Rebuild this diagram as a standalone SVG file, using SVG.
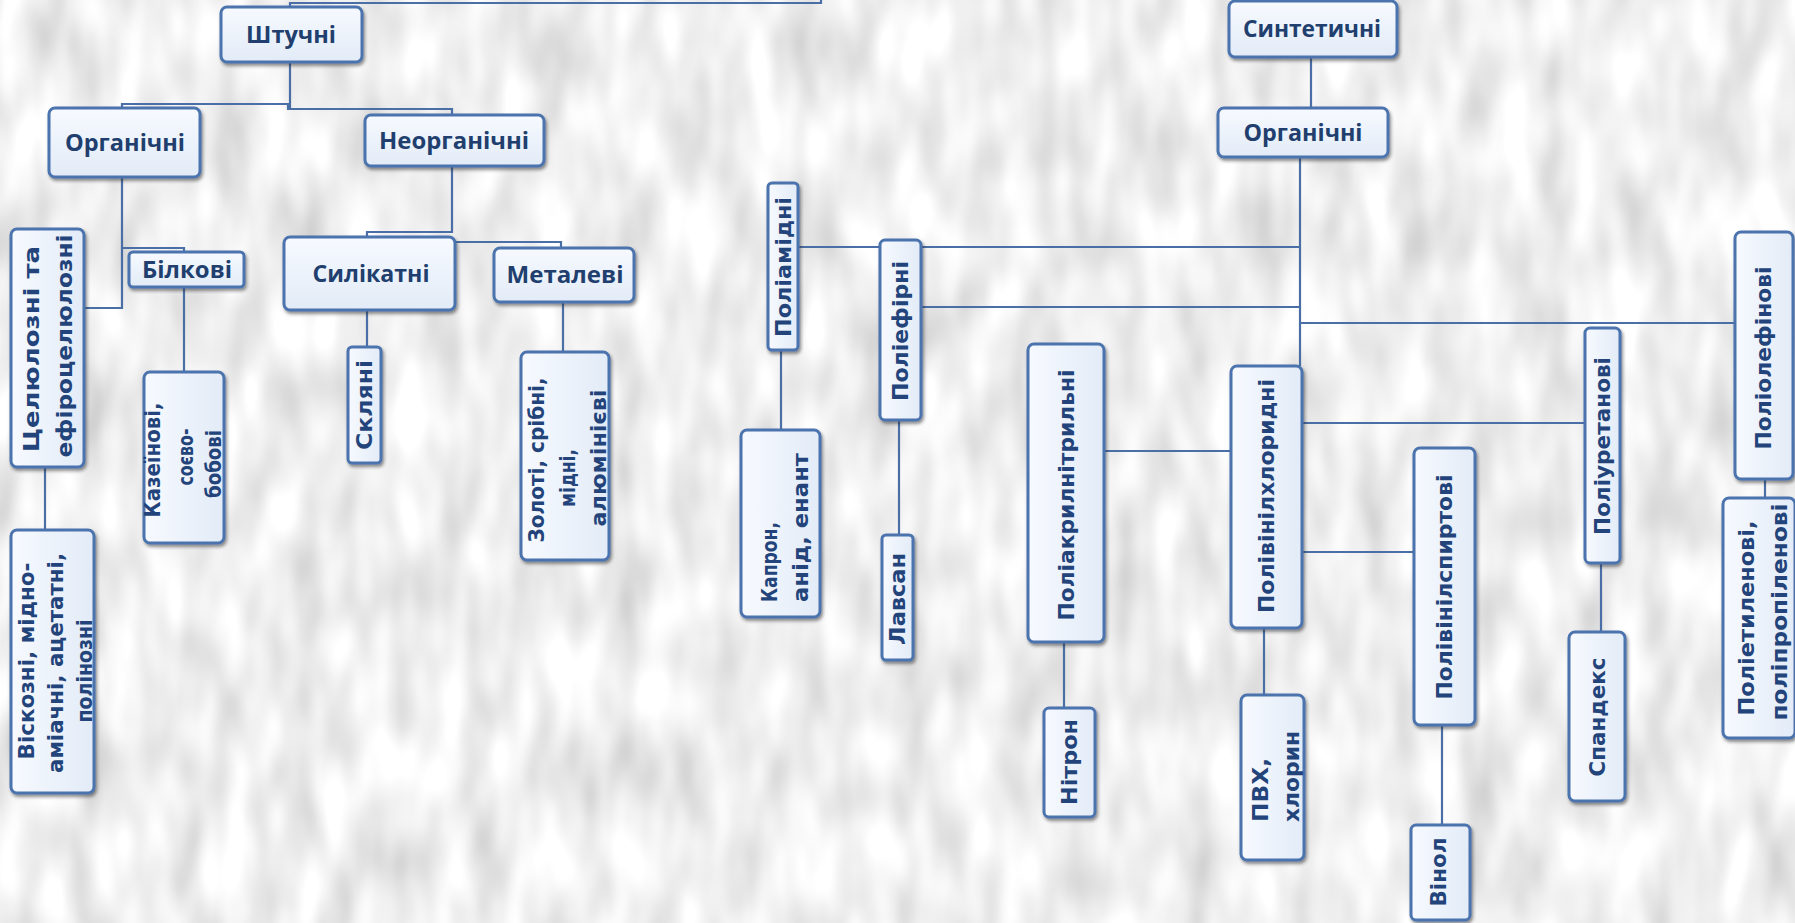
<svg xmlns="http://www.w3.org/2000/svg" width="1795" height="923" viewBox="0 0 1795 923">
<defs>
<filter id="bgnoise" x="0" y="0" width="100%" height="100%">
<feTurbulence type="fractalNoise" baseFrequency="0.028 0.011" numOctaves="2" seed="11" result="n"/>
<feColorMatrix in="n" type="matrix" values="0.6 0 0 0 0.57  0.6 0 0 0 0.57  0.6 0 0 0 0.57  0 0 0 0 1"/>
</filter>
<filter id="shadow" x="-20%" y="-20%" width="140%" height="140%">
<feDropShadow dx="1.5" dy="2.5" stdDeviation="1.5" flood-color="#222" flood-opacity="0.5"/>
</filter>
<linearGradient id="boxg" x1="0" y1="0" x2="0" y2="1">
<stop offset="0" stop-color="#f7faff"/>
<stop offset="1" stop-color="#e2ebf7"/>
</linearGradient>
<linearGradient id="boxv" x1="0" y1="0" x2="1" y2="0">
<stop offset="0" stop-color="#f7faff"/>
<stop offset="1" stop-color="#e2ebf7"/>
</linearGradient>
</defs>
<style>
.bx{fill:url(#boxg);stroke:#4b73ad;stroke-width:3;filter:url(#shadow)}
.bv{fill:url(#boxv);stroke:#4b73ad;stroke-width:3;filter:url(#shadow)}
.ht{font-family:"Open Sans","Liberation Sans",sans-serif;font-weight:700;font-size:24px;fill:#213f6e;text-anchor:middle}
.vt{font-family:"DejaVu Sans","Liberation Sans",sans-serif;font-weight:700;font-size:21px;fill:#23447a;text-anchor:middle}
.cn path{fill:none;stroke:#4a6fa6;stroke-width:2.2}
</style>
<rect x="0" y="0" width="1795" height="923" fill="#dadada"/>
<rect x="0" y="0" width="1795" height="923" filter="url(#bgnoise)"/>

<g id="connectors" class="cn">
<path d="M290,108 V3 H821 V0"/>
<path d="M122,108 V104 H288 V109 H452 V115"/>
<path d="M122,177 V308 H84"/>
<path d="M122,248 H184 V252"/>
<path d="M184,287 V372"/>
<path d="M45,467 V530"/>
<path d="M452,166 V232 H367 V237"/>
<path d="M455,242 H561 V248"/>
<path d="M367,310 V347"/>
<path d="M563,302 V352"/>
<path d="M1311,57 V108"/>
<path d="M1300,157 V366"/>
<path d="M798,247 H1300"/>
<path d="M921,307 H1300"/>
<path d="M1300,323 H1735"/>
<path d="M781,350 V430"/>
<path d="M899,420 V535"/>
<path d="M1104,451 H1231"/>
<path d="M1302,423 H1585"/>
<path d="M1302,552 H1414"/>
<path d="M1064,642 V708"/>
<path d="M1264,628 V695"/>
<path d="M1442,725 V825"/>
<path d="M1601,563 V632"/>
<path d="M1765,479 V498"/>
</g>

<g id="n_shtuchni"><rect class="bx" x="221" y="7" width="141" height="55" rx="6"/><text class="ht" x="291" y="43" textLength="90" lengthAdjust="spacingAndGlyphs">Штучні</text></g>
<g id="n_org_left"><rect class="bx" x="49" y="108" width="151" height="69" rx="6"/><text class="ht" x="125" y="151" textLength="120" lengthAdjust="spacingAndGlyphs">Органічні</text></g>
<g id="n_neorg"><rect class="bx" x="365" y="115" width="179" height="51" rx="6"/><text class="ht" x="454" y="149" textLength="150" lengthAdjust="spacingAndGlyphs">Неорганічні</text></g>
<g id="n_bilkovi"><rect class="bx" x="129" y="252" width="115" height="35" rx="4"/><text class="ht" x="187" y="278" textLength="90" lengthAdjust="spacingAndGlyphs">Білкові</text></g>
<g id="n_silikatni"><rect class="bx" x="284" y="237" width="171" height="73" rx="6"/><text class="ht" x="371" y="282" textLength="117" lengthAdjust="spacingAndGlyphs">Силікатні</text></g>
<g id="n_metalevi"><rect class="bx" x="494" y="248" width="140" height="54" rx="6"/><text class="ht" x="565" y="283" textLength="117" lengthAdjust="spacingAndGlyphs">Металеві</text></g>
<g id="n_synt"><rect class="bx" x="1229" y="1" width="168" height="56" rx="6"/><text class="ht" x="1312" y="37" textLength="138" lengthAdjust="spacingAndGlyphs">Синтетичні</text></g>
<g id="n_org_right"><rect class="bx" x="1218" y="108" width="170" height="49" rx="6"/><text class="ht" x="1303" y="141" textLength="119" lengthAdjust="spacingAndGlyphs">Органічні</text></g>

<g id="n_cell"><rect class="bv" x="11" y="229" width="73" height="238" rx="6"/>
<text class="vt" transform="rotate(-90)"><tspan x="-349" y="39" textLength="206" lengthAdjust="spacingAndGlyphs">Целюлозні та</tspan><tspan x="-346" y="72" textLength="223" lengthAdjust="spacingAndGlyphs">ефіроцелюлозні</tspan></text></g>
<g id="n_visk"><rect class="bv" x="11" y="530" width="83" height="263" rx="6"/>
<text class="vt" transform="rotate(-90)"><tspan x="-661" y="34" textLength="197" lengthAdjust="spacingAndGlyphs">Віскозні, мідно-</tspan><tspan x="-663" y="63" textLength="220" lengthAdjust="spacingAndGlyphs">аміачні, ацетатні,</tspan><tspan x="-671" y="92" textLength="103" lengthAdjust="spacingAndGlyphs">полінозні</tspan></text></g>
<g id="n_kaz"><rect class="bv" x="144" y="372" width="80" height="171" rx="6"/>
<text class="vt" transform="rotate(-90)"><tspan x="-460" y="160" textLength="115" lengthAdjust="spacingAndGlyphs">Казеїнові,</tspan><tspan x="-457" y="193" textLength="57" lengthAdjust="spacingAndGlyphs">соєво-</tspan><tspan x="-464" y="221" textLength="68" lengthAdjust="spacingAndGlyphs">бобові</tspan></text></g>
<g id="n_sklyani"><rect class="bv" x="348" y="347" width="33" height="116" rx="4"/>
<text class="vt" transform="rotate(-90)"><tspan x="-405" y="372" textLength="90" lengthAdjust="spacingAndGlyphs">Скляні</tspan></text></g>
<g id="n_zoloti"><rect class="bv" x="521" y="352" width="88" height="208" rx="6"/>
<text class="vt" transform="rotate(-90)"><tspan x="-460" y="544" textLength="165" lengthAdjust="spacingAndGlyphs">Золоті, срібні,</tspan><tspan x="-478" y="575" textLength="58" lengthAdjust="spacingAndGlyphs">мідні,</tspan><tspan x="-458" y="606" textLength="137" lengthAdjust="spacingAndGlyphs">алюмінієві</tspan></text></g>
<g id="n_poliamid"><rect class="bv" x="768" y="183" width="30" height="167" rx="4"/>
<text class="vt" transform="rotate(-90)"><tspan x="-267" y="791" textLength="140" lengthAdjust="spacingAndGlyphs">Поліамідні</tspan></text></g>
<g id="n_kapron"><rect class="bv" x="741" y="430" width="79" height="187" rx="6"/>
<text class="vt" transform="rotate(-90)" style="text-anchor:start"><tspan x="-602" y="777" textLength="80" lengthAdjust="spacingAndGlyphs">Капрон,</tspan><tspan x="-602" y="808" textLength="149" lengthAdjust="spacingAndGlyphs">анід, енант</tspan></text></g>
<g id="n_poliefir"><rect class="bv" x="880" y="240" width="41" height="180" rx="5"/>
<text class="vt" transform="rotate(-90)"><tspan x="-331" y="908" textLength="140" lengthAdjust="spacingAndGlyphs">Поліефірні</tspan></text></g>
<g id="n_lavsan"><rect class="bv" x="882" y="535" width="31" height="125" rx="4"/>
<text class="vt" transform="rotate(-90)"><tspan x="-599" y="905" textLength="92" lengthAdjust="spacingAndGlyphs">Лавсан</tspan></text></g>
<g id="n_pan"><rect class="bv" x="1028" y="344" width="76" height="298" rx="6"/>
<text class="vt" transform="rotate(-90)"><tspan x="-495" y="1074" textLength="251" lengthAdjust="spacingAndGlyphs">Поліакрилнітрильні</tspan></text></g>
<g id="n_nitron"><rect class="bv" x="1044" y="708" width="51" height="109" rx="5"/>
<text class="vt" transform="rotate(-90)"><tspan x="-762" y="1077" textLength="86" lengthAdjust="spacingAndGlyphs">Нітрон</tspan></text></g>
<g id="n_pvc"><rect class="bv" x="1231" y="366" width="71" height="262" rx="6"/>
<text class="vt" transform="rotate(-90)"><tspan x="-496" y="1274" textLength="234" lengthAdjust="spacingAndGlyphs">Полівінілхлоридні</tspan></text></g>
<g id="n_pvx"><rect class="bv" x="1241" y="695" width="63" height="165" rx="6"/>
<text class="vt" transform="rotate(-90)" style="text-anchor:start"><tspan x="-822" y="1268" textLength="64" lengthAdjust="spacingAndGlyphs">ПВХ,</tspan><tspan x="-822" y="1299" textLength="91" lengthAdjust="spacingAndGlyphs">хлорин</tspan></text></g>
<g id="n_pva"><rect class="bv" x="1414" y="448" width="61" height="277" rx="6"/>
<text class="vt" transform="rotate(-90)"><tspan x="-587" y="1452" textLength="225" lengthAdjust="spacingAndGlyphs">Полівінілспиртові</tspan></text></g>
<g id="n_vinol"><rect class="bv" x="1411" y="825" width="59" height="95" rx="5"/>
<text class="vt" transform="rotate(-90)"><tspan x="-872" y="1446" textLength="69" lengthAdjust="spacingAndGlyphs">Вінол</tspan></text></g>
<g id="n_pu"><rect class="bv" x="1585" y="328" width="35" height="235" rx="5"/>
<text class="vt" transform="rotate(-90)"><tspan x="-446" y="1610" textLength="178" lengthAdjust="spacingAndGlyphs">Поліуретанові</tspan></text></g>
<g id="n_spandex"><rect class="bv" x="1569" y="632" width="56" height="169" rx="6"/>
<text class="vt" transform="rotate(-90)"><tspan x="-717" y="1605" textLength="119" lengthAdjust="spacingAndGlyphs">Спандекс</tspan></text></g>
<g id="n_po"><rect class="bv" x="1735" y="232" width="58" height="247" rx="6"/>
<text class="vt" transform="rotate(-90)"><tspan x="-358" y="1771" textLength="183" lengthAdjust="spacingAndGlyphs">Поліолефінові</tspan></text></g>
<g id="n_pe"><rect class="bv" x="1723" y="498" width="72" height="240" rx="6"/>
<text class="vt" transform="rotate(-90)"><tspan x="-618" y="1754" textLength="195" lengthAdjust="spacingAndGlyphs">Поліетиленові,</tspan><tspan x="-612" y="1787" textLength="217" lengthAdjust="spacingAndGlyphs">поліпропіленові</tspan></text></g>
</svg>
